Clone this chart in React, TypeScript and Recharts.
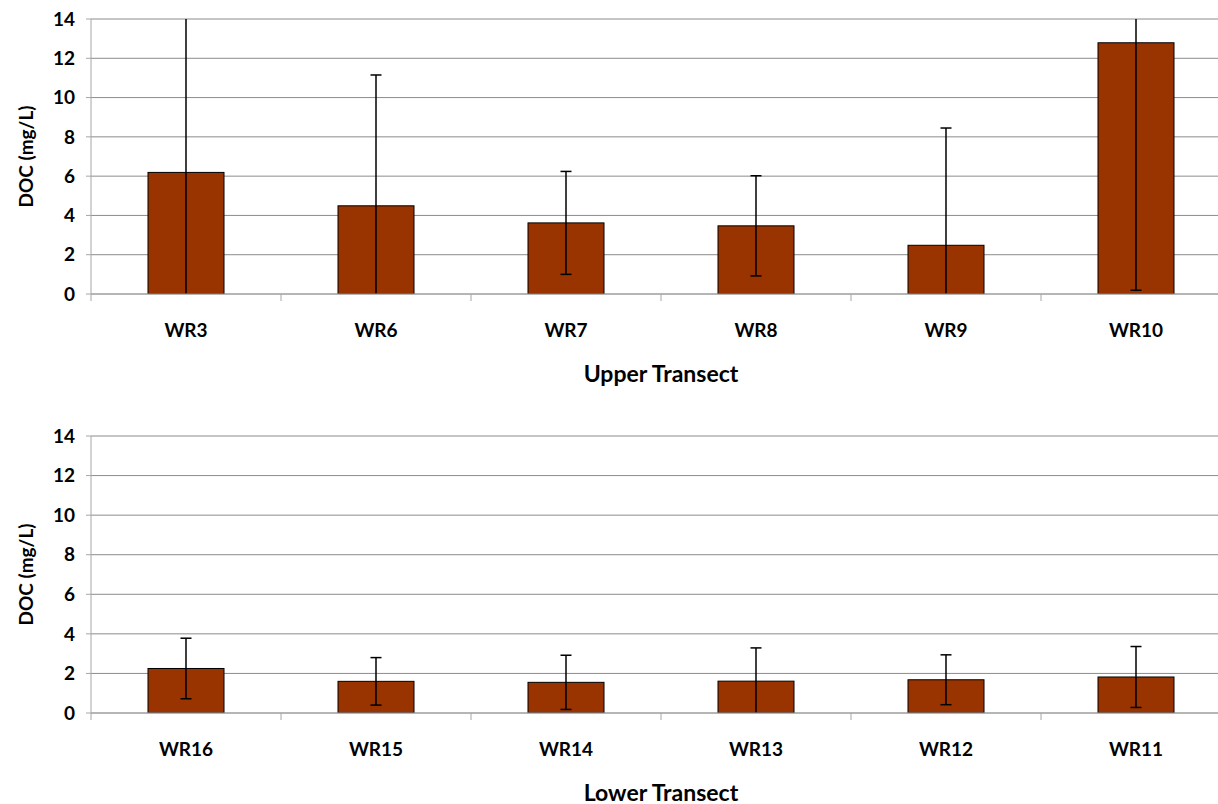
import { Bar, BarChart, CartesianGrid, Label, XAxis, YAxis } from "recharts";

// DOC means and error half-widths per sampling site
const upperSites = ["WR3", "WR6", "WR7", "WR8", "WR9", "WR10"];
const upperDoc = [6.19, 4.49, 3.62, 3.47, 2.48, 12.79];
const upperErr = [8.2, 6.66, 2.62, 2.55, 5.97, 12.6];

const lowerSites = ["WR16", "WR15", "WR14", "WR13", "WR12", "WR11"];
const lowerDoc = [2.25, 1.6, 1.55, 1.61, 1.68, 1.82];
const lowerErr = [1.53, 1.2, 1.37, 1.68, 1.26, 1.54];

const yTicks = [0, 2, 4, 6, 8, 10, 12, 14];
const Y_MAX = 14;

const FONT = "Lato, 'Open Sans', sans-serif";
const AXIS = "#a6a6a6";
const GRID = "#8c8c8c";
const BAR = "#993300";

// bar plus its error whisker; the whisker is cut at the plot edges (no cap there)
function BarWithError(props: any) {
  const { x, y, width, height, background, payload } = props;
  const top = background.y - 3;
  const bottom = background.y + background.height;
  const pxPerUnit = background.height / Y_MAX;
  const cx = x + width / 2;
  const hi = y - payload.err * pxPerUnit;
  const lo = y + payload.err * pxPerUnit;
  const y1 = Math.max(hi, top);
  const y2 = Math.min(lo, bottom);
  const cap = 5.5;
  return (
    <g>
      <rect x={x} y={y} width={width} height={height} fill={BAR} stroke="#000" strokeWidth={1} />
      <line x1={cx} x2={cx} y1={y1} y2={y2} stroke="#000" strokeWidth={1.5} />
      {hi >= top && (
        <line x1={cx - cap} x2={cx + cap} y1={hi} y2={hi} stroke="#000" strokeWidth={1.5} />
      )}
      {lo <= bottom && (
        <line x1={cx - cap} x2={cx + cap} y1={lo} y2={lo} stroke="#000" strokeWidth={1.5} />
      )}
    </g>
  );
}

function SiteTick(props: any) {
  const { x, y, payload, index, visibleTicksCount } = props;
  const half = payload?.offset || 95;
  return (
    <g>
      <line x1={x - half} x2={x - half} y1={y} y2={y + 7} stroke={AXIS} />
      {index === visibleTicksCount - 1 && (
        <line x1={x + half} x2={x + half} y1={y} y2={y + 7} stroke={AXIS} />
      )}
      <text
        x={x}
        y={y + 43}
        textAnchor="middle"
        fontFamily={FONT}
        fontWeight={700}
        fontSize={19}
        fill="#000"
      >
        {payload.value}
      </text>
    </g>
  );
}

function DocLabel({ viewBox }: any) {
  const cy = viewBox.y + viewBox.height / 2;
  return (
    <text
      transform={`translate(25,${cy}) rotate(-90)`}
      textAnchor="middle"
      dominantBaseline="central"
      fontFamily={FONT}
      fontWeight={700}
      fontSize={19}
      fill="#000"
    >
      DOC (mg/L)
    </text>
  );
}

function TransectTitle({ viewBox, value }: any) {
  return (
    <text
      x={viewBox.x + viewBox.width / 2}
      y={viewBox.y + 88}
      textAnchor="middle"
      fontFamily={FONT}
      fontWeight={700}
      fontSize={23}
      fill="#000"
    >
      {value}
    </text>
  );
}

function TransectChart({
  sites,
  doc,
  err,
  title,
  height,
  axisHeight,
}: {
  sites: string[];
  doc: number[];
  err: number[];
  title: string;
  height: number;
  axisHeight: number;
}) {
  const data = sites.map((site, i) => ({ site, doc: doc[i], err: err[i] }));
  return (
    <BarChart
      width={1240}
      height={height}
      data={data}
      margin={{ top: 19, right: 9, bottom: 0, left: 0 }}
    >
      <CartesianGrid vertical={false} stroke={GRID} />
      <XAxis
        dataKey="site"
        height={axisHeight}
        stroke={AXIS}
        tickLine={false}
        tickSize={0}
        tickMargin={0}
        tick={<SiteTick />}
        interval={0}
      >
        <Label value={title} content={<TransectTitle />} />
      </XAxis>
      <YAxis
        width={91}
        domain={[0, Y_MAX]}
        ticks={yTicks}
        allowDataOverflow
        stroke={AXIS}
        tickSize={5}
        tickMargin={11}
        tick={{ fill: "#000", fontFamily: FONT, fontWeight: 700, fontSize: 19 }}
      >
        <Label content={<DocLabel />} />
      </YAxis>
      <Bar
        dataKey="doc"
        barSize={76}
        shape={<BarWithError />}
        isAnimationActive={false}
      />
    </BarChart>
  );
}

export default function App() {
  return (
    <div
      style={{
        position: "absolute",
        left: 0,
        top: 0,
        width: 1218,
        height: 804,
        overflow: "hidden",
        background: "#fff",
        fontFamily: FONT,
      }}
    >
      <div style={{ position: "absolute", left: 0, top: 0 }}>
        <TransectChart
          sites={upperSites}
          doc={upperDoc}
          err={upperErr}
          title="Upper Transect"
          height={410}
          axisHeight={116}
        />
      </div>
      <div style={{ position: "absolute", left: 0, top: 417 }}>
        <TransectChart
          sites={lowerSites}
          doc={lowerDoc}
          err={lowerErr}
          title="Lower Transect"
          height={387}
          axisHeight={91}
        />
      </div>
    </div>
  );
}
